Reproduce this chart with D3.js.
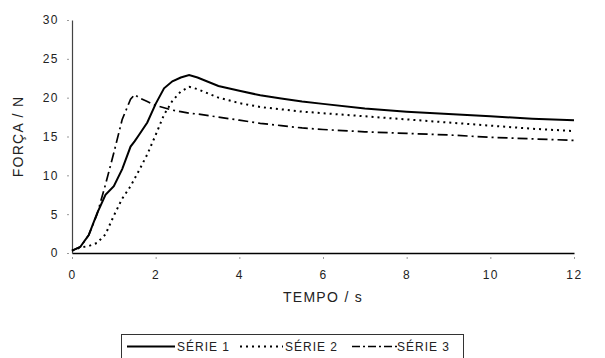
<!DOCTYPE html>
<html>
<head>
<meta charset="utf-8">
<script src="https://cdn.jsdelivr.net/npm/d3@7"></script>
<style>
  body { margin: 0; background: #fff; }
  svg { display: block; font-family: "Liberation Sans", Arial, sans-serif; }
</style>
</head>
<body>
<div id="chart"></div>
<script>
// time samples (s)
const tempo = [0, 0.2, 0.4, 0.6, 0.8, 1.0, 1.2, 1.4, 1.5, 1.6, 1.8, 2.0, 2.2, 2.4, 2.6, 2.8, 3.0, 3.5, 4, 4.5, 5, 5.5, 6, 7, 8, 9, 10, 11, 12];
// force (N)
const serie1 = [0.3, 0.8, 2.3, 5.1, 7.5, 8.6, 10.8, 13.7, 14.4, 15.2, 16.8, 19.2, 21.2, 22.1, 22.6, 22.9, 22.6, 21.5, 20.9, 20.3, 19.9, 19.5, 19.2, 18.6, 18.2, 17.9, 17.6, 17.3, 17.1];
const serie2 = [0.3, 0.7, 0.9, 1.3, 2.4, 4.8, 7.0, 8.6, 9.6, 10.6, 12.7, 15.2, 17.8, 19.6, 20.8, 21.4, 21.1, 20.0, 19.3, 18.8, 18.5, 18.2, 18.0, 17.6, 17.2, 16.8, 16.4, 16.0, 15.7];
const serie3 = [0.3, 0.8, 2.3, 5.0, 8.8, 12.9, 17.2, 19.8, 20.4, 20.0, 19.5, 19.0, 18.7, 18.4, 18.2, 18.0, 17.9, 17.5, 17.1, 16.7, 16.4, 16.1, 15.9, 15.6, 15.4, 15.2, 14.9, 14.7, 14.5];
const seriesNames = ["SÉRIE 1", "SÉRIE 2", "SÉRIE 3"];
const xTicks = [0, 2, 4, 6, 8, 10, 12];
const yTicks = [0, 5, 10, 15, 20, 25, 30];

const W = 605, H = 358;
const margin = { top: 20, right: 31, bottom: 105, left: 72 };

const svg = d3.select("#chart").append("svg")
  .attr("width", W)
  .attr("height", H);

const x = d3.scaleLinear().domain([0, 12]).range([margin.left, W - margin.right]);
const y = d3.scaleLinear().domain([0, 30]).range([H - margin.bottom, margin.top]);

// y axis
const gy = svg.append("g")
  .attr("transform", "translate(" + margin.left + ",0)")
  .call(d3.axisLeft(y).tickValues(yTicks).tickSize(0).tickPadding(13));
gy.select(".domain").attr("stroke", "#444").attr("stroke-width", 1.2);
gy.selectAll(".tick text")
  .attr("font-size", 12)
  .attr("letter-spacing", "1.5px")
  .attr("fill", "#222");
gy.selectAll(".tick").append("line")
  .attr("x1", -5).attr("x2", -3)
  .attr("stroke", "#999");

// x axis
const gx = svg.append("g")
  .attr("transform", "translate(0," + y(0) + ")")
  .call(d3.axisBottom(x).tickValues(xTicks).tickSize(0).tickPadding(17));
gx.select(".domain").attr("stroke", "#000").attr("stroke-width", 1.5);
gx.selectAll(".tick text")
  .attr("font-size", 12)
  .attr("letter-spacing", "1.5px")
  .attr("fill", "#222");
gx.selectAll(".tick").append("line")
  .attr("y1", 4).attr("y2", 6)
  .attr("stroke", "#999");

// axis titles
svg.append("text")
  .attr("x", (x(0) + x(12)) / 2)
  .attr("y", 302)
  .attr("text-anchor", "middle")
  .attr("font-size", 14)
  .attr("letter-spacing", "1.3px")
  .attr("fill", "#222")
  .text("TEMPO / s");

svg.append("text")
  .attr("transform", "translate(23," + y(15) + ") rotate(-90)")
  .attr("text-anchor", "middle")
  .attr("font-size", 14)
  .attr("letter-spacing", "1.3px")
  .attr("fill", "#222")
  .text("FORÇA / N");

// lines
const styles = [
  { dash: null, width: 2 },
  { dash: "2,4", width: 2 },
  { dash: "10,4,2,4", width: 1.7 }
];
const allSeries = [serie1, serie2, serie3];

const line = d3.line()
  .x((d, i) => x(tempo[i]))
  .y(d => y(d));

svg.selectAll("path.serie")
  .data(allSeries)
  .enter()
  .append("path")
  .attr("class", "serie")
  .attr("fill", "none")
  .attr("stroke", "#000")
  .attr("stroke-width", (d, i) => styles[i].width)
  .attr("stroke-dasharray", (d, i) => styles[i].dash)
  .attr("d", line);

// legend
const legend = svg.append("g");
legend.append("rect")
  .attr("x", 121.5).attr("y", 334.5)
  .attr("width", 342).attr("height", 30)
  .attr("fill", "#fff")
  .attr("stroke", "#333");

const legendItems = [
  { x1: 127, x2: 175, tx: 177 },
  { x1: 240, x2: 283, tx: 285 },
  { x1: 352, x2: 397, tx: 397 }
];
const legendDash = [null, "2,4", "8,3,2,3"];

legendItems.forEach((it, i) => {
  legend.append("line")
    .attr("x1", it.x1).attr("x2", it.x2)
    .attr("y1", 346.5).attr("y2", 346.5)
    .attr("stroke", "#000")
    .attr("stroke-width", styles[i].width)
    .attr("stroke-dasharray", legendDash[i]);
  legend.append("text")
    .attr("x", it.tx).attr("y", 350.5)
    .attr("font-size", 12)
    .attr("letter-spacing", "1px")
    .attr("fill", "#222")
    .text(seriesNames[i]);
});
</script>
</body>
</html>
